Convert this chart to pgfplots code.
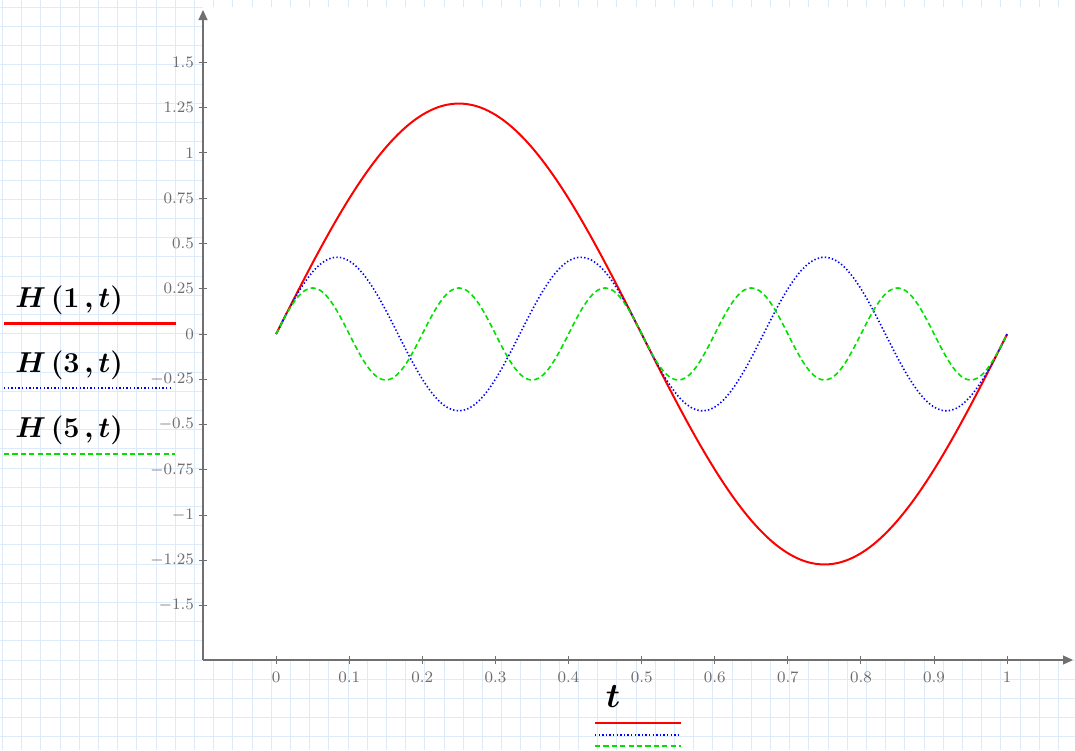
\documentclass[border=0pt]{standalone}
\usepackage{bm}
\usepackage{pgfplots}
\pgfplotsset{compat=1.18}
\usepackage{pgfplotstable}
\usetikzlibrary{arrows.meta}
\definecolor{gridblue}{RGB}{220,234,250}
\definecolor{axgray}{RGB}{112,112,112}
\definecolor{tickgray}{RGB}{110,110,110}
\definecolor{cred}{RGB}{255,0,0}
\definecolor{cblue}{RGB}{0,0,255}
\definecolor{cgreen}{RGB}{0,225,0}
\newcommand{\legfont}{\fontsize{13.8}{16}\selectfont}
\newcommand{\tfont}{\fontsize{17}{19}\selectfont}
\newcommand{\tickfont}{\fontsize{7.6}{9}\selectfont}

\pgfplotstableread{
t h1 h3 h5
0.00 0 0 0
0.01 0.0799 0.0795 0.0787
0.02 0.1596 0.1562 0.1497
0.03 0.2386 0.2274 0.2060
0.04 0.3166 0.2905 0.2422
0.05 0.3935 0.3434 0.2546
0.06 0.4687 0.3840 0.2422
0.07 0.5421 0.4111 0.2060
0.08 0.6134 0.4236 0.1497
0.09 0.6822 0.4211 0.0787
0.10 0.7484 0.4036 0
0.11 0.8116 0.3719 -0.0787
0.12 0.8716 0.3270 -0.1497
0.13 0.9282 0.2705 -0.2060
0.14 0.9811 0.2045 -0.2422
0.15 1.0301 0.1312 -0.2546
0.16 1.0750 0.0532 -0.2422
0.17 1.1157 -0.0267 -0.2060
0.18 1.1521 -0.1055 -0.1497
0.19 1.1838 -0.1807 -0.0787
0.20 1.2109 -0.2495 0
0.21 1.2332 -0.3094 0.0787
0.22 1.2507 -0.3583 0.1497
0.23 1.2632 -0.3946 0.2060
0.24 1.2707 -0.4169 0.2422
0.25 1.2732 -0.4244 0.2546
0.26 1.2707 -0.4169 0.2422
0.27 1.2632 -0.3946 0.2060
0.28 1.2507 -0.3583 0.1497
0.29 1.2332 -0.3094 0.0787
0.30 1.2109 -0.2495 0
0.31 1.1838 -0.1807 -0.0787
0.32 1.1521 -0.1055 -0.1497
0.33 1.1157 -0.0267 -0.2060
0.34 1.0750 0.0532 -0.2422
0.35 1.0301 0.1312 -0.2546
0.36 0.9811 0.2045 -0.2422
0.37 0.9282 0.2705 -0.2060
0.38 0.8716 0.3270 -0.1497
0.39 0.8116 0.3719 -0.0787
0.40 0.7484 0.4036 0
0.41 0.6822 0.4211 0.0787
0.42 0.6134 0.4236 0.1497
0.43 0.5421 0.4111 0.2060
0.44 0.4687 0.3840 0.2422
0.45 0.3935 0.3434 0.2546
0.46 0.3166 0.2905 0.2422
0.47 0.2386 0.2274 0.2060
0.48 0.1596 0.1562 0.1497
0.49 0.0799 0.0795 0.0787
0.50 0 0 0
0.51 -0.0799 -0.0795 -0.0787
0.52 -0.1596 -0.1562 -0.1497
0.53 -0.2386 -0.2274 -0.2060
0.54 -0.3166 -0.2905 -0.2422
0.55 -0.3935 -0.3434 -0.2546
0.56 -0.4687 -0.3840 -0.2422
0.57 -0.5421 -0.4111 -0.2060
0.58 -0.6134 -0.4236 -0.1497
0.59 -0.6822 -0.4211 -0.0787
0.60 -0.7484 -0.4036 0
0.61 -0.8116 -0.3719 0.0787
0.62 -0.8716 -0.3270 0.1497
0.63 -0.9282 -0.2705 0.2060
0.64 -0.9811 -0.2045 0.2422
0.65 -1.0301 -0.1312 0.2546
0.66 -1.0750 -0.0532 0.2422
0.67 -1.1157 0.0267 0.2060
0.68 -1.1521 0.1055 0.1497
0.69 -1.1838 0.1807 0.0787
0.70 -1.2109 0.2495 0
0.71 -1.2332 0.3094 -0.0787
0.72 -1.2507 0.3583 -0.1497
0.73 -1.2632 0.3946 -0.2060
0.74 -1.2707 0.4169 -0.2422
0.75 -1.2732 0.4244 -0.2546
0.76 -1.2707 0.4169 -0.2422
0.77 -1.2632 0.3946 -0.2060
0.78 -1.2507 0.3583 -0.1497
0.79 -1.2332 0.3094 -0.0787
0.80 -1.2109 0.2495 0
0.81 -1.1838 0.1807 0.0787
0.82 -1.1521 0.1055 0.1497
0.83 -1.1157 0.0267 0.2060
0.84 -1.0750 -0.0532 0.2422
0.85 -1.0301 -0.1312 0.2546
0.86 -0.9811 -0.2045 0.2422
0.87 -0.9282 -0.2705 0.2060
0.88 -0.8716 -0.3270 0.1497
0.89 -0.8116 -0.3719 0.0787
0.90 -0.7484 -0.4036 0
0.91 -0.6822 -0.4211 -0.0787
0.92 -0.6134 -0.4236 -0.1497
0.93 -0.5421 -0.4111 -0.2060
0.94 -0.4687 -0.3840 -0.2422
0.95 -0.3935 -0.3434 -0.2546
0.96 -0.3166 -0.2905 -0.2422
0.97 -0.2386 -0.2274 -0.2060
0.98 -0.1596 -0.1562 -0.1497
0.99 -0.0799 -0.0795 -0.0787
1.00 0 0 0
}\datatable

\begin{document}
\begin{tikzpicture}
\begin{scope}[x=0.5pt,y=-0.5pt]
  \fill[white] (0,0) rectangle (1075,750);
  \begin{scope}
  \clip (0,0) rectangle (1075,750);
  \foreach \i in {0,...,56} {\draw[gridblue, line width=0.55pt] ({2.5+19.2*\i},0) -- ++(0,750);}
  \foreach \i in {0,...,39} {\draw[gridblue, line width=0.55pt] (0,{7.3+19.2*\i}) -- ++(1075,0);}
  \end{scope}
  \fill[white] (203,7.3) rectangle (1075,660);
\end{scope}
\begin{axis}[
  at={(101.5pt,-330pt)}, anchor=south west,
  scale only axis, width=435pt, height=325pt,
  xmin=-0.1, xmax=1.09, ymin=-1.801, ymax=1.790,
  axis lines=left,
  axis line style={axgray, line width=0.6pt, -{Triangle[length=5pt,width=4.5pt]}},
  xtick={0,0.1,...,1.0},
  ytick={-1.5,-1.25,...,1.5},
  tick align=center,
  major tick length=4pt,
  tick style={axgray, line width=0.5pt},
  tick label style={font=\tickfont, text=tickgray},
  xticklabel style={yshift=-0.5pt},
  yticklabel style={xshift=1pt},
  clip=false,
]
\addplot[cred, line width=1pt, smooth] table[x=t,y=h1] {\datatable};
\addplot[cblue, line width=0.8pt, smooth, dash pattern=on 0.7pt off 1.1pt] table[x=t,y=h3] {\datatable};
\addplot[cgreen, line width=0.8pt, smooth, dash pattern=on 2.6pt off 1.6pt] table[x=t,y=h5] {\datatable};
\end{axis}
\node[anchor=base west, inner sep=0pt, font=\legfont] at (7.5pt,-153.5pt) {$\bm{H\,(1\,,t)}$};
\draw[cred, line width=1.5pt] (2pt,-161.5pt) -- (88pt,-161.5pt);
\node[anchor=base west, inner sep=0pt, font=\legfont] at (7.5pt,-186pt) {$\bm{H\,(3\,,t)}$};
\draw[cblue, line width=0.9pt, dash pattern=on 0.7pt off 1.1pt] (2pt,-194pt) -- (86.5pt,-194pt);
\node[anchor=base west, inner sep=0pt, font=\legfont] at (7.5pt,-218.5pt) {$\bm{H\,(5\,,t)}$};
\draw[cgreen, line width=0.9pt, dash pattern=on 2.6pt off 1.6pt] (2pt,-227pt) -- (87.5pt,-227pt);
\node[anchor=base, inner sep=0pt, font=\tfont] at (306.5pt,-353.5pt) {$\bm{t}$};
\draw[cred, line width=1.2pt] (297.5pt,-361.5pt) -- (340.5pt,-361.5pt);
\draw[cblue, line width=0.9pt, dash pattern=on 0.7pt off 1.1pt] (297.5pt,-367.5pt) -- (340.5pt,-367.5pt);
\draw[cgreen, line width=0.9pt, dash pattern=on 2.6pt off 1.6pt] (297.5pt,-373pt) -- (340.5pt,-373pt);
\pgfresetboundingbox
\path (0,0) rectangle (537.5pt,-375pt);
\end{tikzpicture}
\end{document}
